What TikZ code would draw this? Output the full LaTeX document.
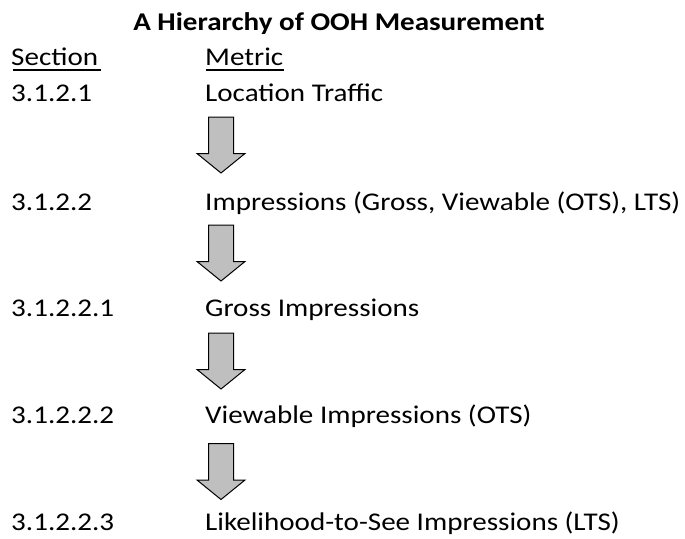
\documentclass[tikz,border=0pt]{standalone}
\usepackage{fontspec}
\setmainfont{Carlito}[FakeStretch=1.14]
\begin{document}
\begin{tikzpicture}[x=1pt,y=-1pt,
  txt/.style={anchor=base west, inner sep=0pt, font=\fontsize{25.5}{30}\selectfont},
  ttl/.style={anchor=base, inner sep=0pt, font=\fontsize{25.5}{30}\selectfont\bfseries},
  uline/.style={line width=1.5pt},
  arrowstyle/.style={draw=black, fill=black!25, line width=1pt, line join=miter},
  downarr/.pic={\path[arrowstyle] (-12.5,0) -- (12.5,0) -- (12.5,36.5) -- (24,36.5) -- (0,56) -- (-24,36.5) -- (-12.5,36.5) -- cycle;}
]
\useasboundingbox (0,0) rectangle (685,538);
\node[ttl] (title) at (339,30) {A Hierarchy of OOH Measurement};
\node[txt] (sec) at (11,65.7) {Section};
\node[txt] (met) at (205,65.7) {Metric};
\draw[uline] (13,70.2) -- (101,70.2);
\draw[uline] (206,70.2) -- (284,70.2);
\node[txt] (s1) at (11,101.7) {3.1.2.1};
\node[txt] (m1) at (205,101.7) {Location Traffic};
\node[txt] (s2) at (11,210) {3.1.2.2};
\node[txt] (m2) at (205,210) {Impressions (Gross, Viewable (OTS), LTS)};
\node[txt] (s3) at (11,316.7) {3.1.2.2.1};
\node[txt] (m3) at (205,316.7) {Gross Impressions};
\node[txt] (s4) at (11,423.3) {3.1.2.2.2};
\node[txt] (m4) at (205,423.3) {Viewable Impressions (OTS)};
\node[txt] (s5) at (11,530) {3.1.2.2.3};
\node[txt] (m5) at (205,530) {Likelihood-to-See Impressions (LTS)};
\pic at (221,117) {downarr};
\pic at (221,225) {downarr};
\pic at (221,333) {downarr};
\pic at (221,443.5) {downarr};
\end{tikzpicture}
\end{document}
